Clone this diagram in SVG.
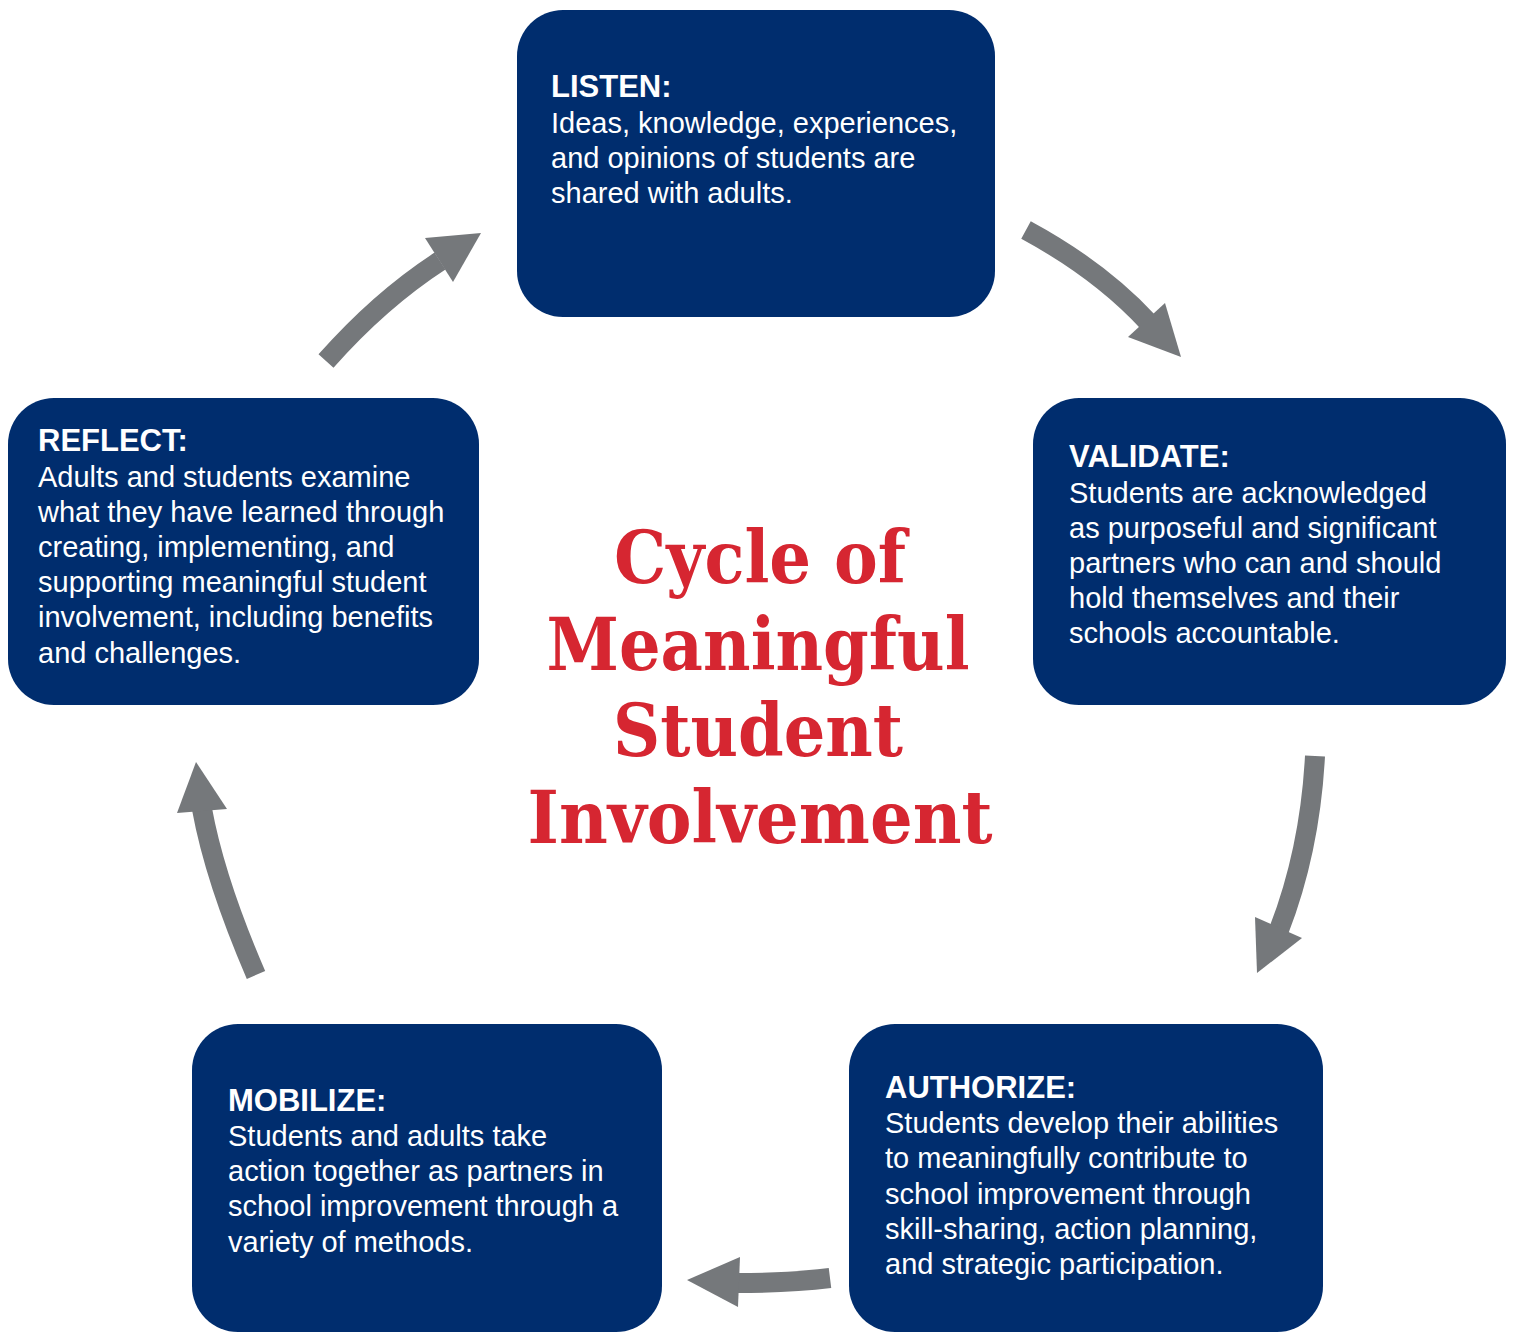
<svg xmlns="http://www.w3.org/2000/svg" width="1519" height="1342" viewBox="0 0 1519 1342">
  <style>
    .box { fill: #002D6E; }
    .txt { font-family: "Liberation Sans", Arial, sans-serif; font-size: 29px; fill: #ffffff; }
    .hd { font-weight: bold; font-size: 31px; }
    .shaft { fill: none; stroke: #75787B; stroke-width: 20; }
    .head { fill: #75787B; }
    .title { font-family: "DejaVu Serif", Georgia, serif; font-weight: bold; font-size: 73px; fill: #D62631; text-anchor: middle; }
  </style>
  <rect width="1519" height="1342" fill="#ffffff"/>

  <!-- connectors: curved arrows between the stages -->
  <g id="connectors">
    <path class="shaft" d="M326,361 Q380,300 440,261"/>
    <polygon class="head" points="481,233 425,238 453,282"/>
    <path class="shaft" d="M1026,230 Q1100,270 1148,322"/>
    <polygon class="head" points="1181,357 1128,337 1165,303"/>
    <path class="shaft" d="M1315,756 Q1310,850 1279,930"/>
    <polygon class="head" points="1257,973 1255,917 1302,938"/>
    <path class="shaft" d="M830,1278 Q790,1283 736,1283"/>
    <polygon class="head" points="687,1280 740,1257 738,1307"/>
    <path class="shaft" d="M256,975 Q215,880 202,809"/>
    <polygon class="head" points="196,762 177,813 227,809"/>
  </g>

  <g id="listen">
    <rect class="box" x="517" y="10" width="478" height="307" rx="46"/>
    <text class="txt">
      <tspan class="hd" x="551" y="97">LISTEN:</tspan>
      <tspan x="551" y="133">Ideas, knowledge, experiences,</tspan>
      <tspan x="551" y="168">and opinions of students are</tspan>
      <tspan x="551" y="203">shared with adults.</tspan>
    </text>
  </g>

  <g id="validate">
    <rect class="box" x="1033" y="398" width="473" height="307" rx="46"/>
    <text class="txt">
      <tspan class="hd" x="1069" y="467">VALIDATE:</tspan>
      <tspan x="1069" y="503">Students are acknowledged</tspan>
      <tspan x="1069" y="538">as purposeful and significant</tspan>
      <tspan x="1069" y="573">partners who can and should</tspan>
      <tspan x="1069" y="608">hold themselves and their</tspan>
      <tspan x="1069" y="643">schools accountable.</tspan>
    </text>
  </g>

  <g id="authorize">
    <rect class="box" x="849" y="1024" width="474" height="308" rx="46"/>
    <text class="txt">
      <tspan class="hd" x="885" y="1098">AUTHORIZE:</tspan>
      <tspan x="885" y="1133">Students develop their abilities</tspan>
      <tspan x="885" y="1168">to meaningfully contribute to</tspan>
      <tspan x="885" y="1204">school improvement through</tspan>
      <tspan x="885" y="1239">skill-sharing, action planning,</tspan>
      <tspan x="885" y="1274">and strategic participation.</tspan>
    </text>
  </g>

  <g id="mobilize">
    <rect class="box" x="192" y="1024" width="470" height="308" rx="46"/>
    <text class="txt">
      <tspan class="hd" x="228" y="1111">MOBILIZE:</tspan>
      <tspan x="228" y="1146">Students and adults take</tspan>
      <tspan x="228" y="1181">action together as partners in</tspan>
      <tspan x="228" y="1216">school improvement through a</tspan>
      <tspan x="228" y="1252">variety of methods.</tspan>
    </text>
  </g>

  <g id="reflect">
    <rect class="box" x="8" y="398" width="471" height="307" rx="46"/>
    <text class="txt">
      <tspan class="hd" x="38" y="451">REFLECT:</tspan>
      <tspan x="38" y="487">Adults and students examine</tspan>
      <tspan x="38" y="522">what they have learned through</tspan>
      <tspan x="38" y="557">creating, implementing, and</tspan>
      <tspan x="38" y="592">supporting meaningful student</tspan>
      <tspan x="38" y="627">involvement, including benefits</tspan>
      <tspan x="38" y="663">and challenges.</tspan>
    </text>
  </g>

  <g id="title">
    <text class="title" x="760" y="583" textLength="292" lengthAdjust="spacingAndGlyphs">Cycle of</text>
    <text class="title" x="758" y="670" textLength="423" lengthAdjust="spacingAndGlyphs">Meaningful</text>
    <text class="title" x="758" y="756" textLength="290" lengthAdjust="spacingAndGlyphs">Student</text>
    <text class="title" x="760" y="843" textLength="465" lengthAdjust="spacingAndGlyphs">Involvement</text>
  </g>
</svg>
